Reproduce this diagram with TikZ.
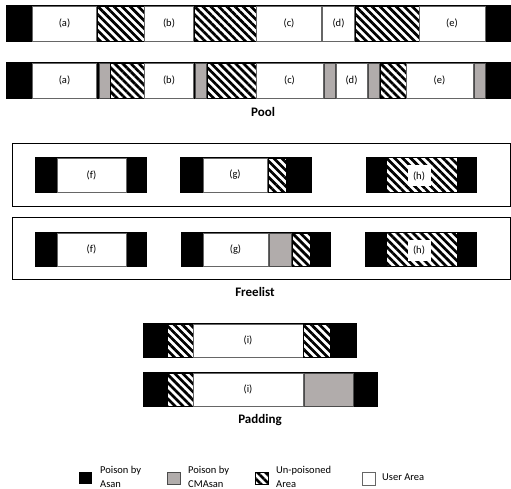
\documentclass[tikz,border=0pt]{standalone}
\usepackage{fontspec}
\setmainfont{Carlito}
\usetikzlibrary{patterns.meta}
\definecolor{cmgray}{HTML}{B1ACAB}
\tikzset{
  blackbar/.style={fill=black},
  userarea/.style={fill=white,draw=black!60,line width=0.5pt},
  cmbox/.style={fill=cmgray,draw=black!70,line width=0.5pt},
  hatch/.style={preaction={fill=white},pattern={Lines[angle=-45,distance=5.7pt,line width=2.7pt]},pattern color=black,draw=black,line width=0.5pt},
  frame/.style={draw=black,line width=1pt},
  lbl/.style={font=\fontsize{10.5}{12}\selectfont,inner sep=1pt},
  hpatch/.style={lbl,fill=white,inner sep=0pt,minimum height=21pt,minimum width=23pt},
  ttl/.style={font=\fontsize{13}{15}\selectfont\bfseries},
  leg/.style={font=\fontsize{10.5}{13.5}\selectfont,align=left,anchor=west,inner sep=0pt}
}
\begin{document}
\begin{tikzpicture}[x=1pt,y=-1pt]
\useasboundingbox (0,0) rectangle (511,489);
% ---------- Pool row 1
\fill[blackbar] (6,5) rectangle (511,42);
\draw[userarea] (32.5,6) rectangle (96.5,41);
\draw[hatch] (97,6) rectangle (144,41);
\draw[userarea] (144,6) rectangle (193.5,41);
\draw[hatch] (194,6) rectangle (256,41);
\draw[userarea] (256,6) rectangle (321.5,41);
\draw[userarea] (322.5,6) rectangle (354.5,41);
\draw[hatch] (355,6) rectangle (419,41);
\draw[userarea] (419,6) rectangle (485.5,41);
\node[lbl] (a1) at (64.5,23.5) {(a)};
\node[lbl] (b1) at (169,23.5) {(b)};
\node[lbl] (c1) at (289,23.5) {(c)};
\node[lbl] (d1) at (338.5,23.5) {(d)};
\node[lbl] (e1) at (452,23.5) {(e)};
% ---------- Pool row 2
\fill[blackbar] (6,62) rectangle (511,99);
\draw[userarea] (32.5,63) rectangle (96.5,98);
\draw[cmbox] (99.5,63) rectangle (110,98);
\draw[hatch] (110.5,63) rectangle (144,98);
\draw[userarea] (144,63) rectangle (193.5,98);
\draw[cmbox] (195,63) rectangle (206.5,98);
\draw[hatch] (207,63) rectangle (256,98);
\draw[userarea] (256,63) rectangle (323,98);
\draw[cmbox] (324,63) rectangle (335,98);
\draw[userarea] (336,63) rectangle (367,98);
\draw[cmbox] (368,63) rectangle (379.5,98);
\draw[hatch] (380,63) rectangle (406,98);
\draw[userarea] (406,63) rectangle (473,98);
\draw[cmbox] (474,63) rectangle (485.5,98);
\node[lbl] (a2) at (64.5,80.5) {(a)};
\node[lbl] (b2) at (169,80.5) {(b)};
\node[lbl] (c2) at (289.5,80.5) {(c)};
\node[lbl] (d2) at (351.5,80.5) {(d)};
\node[lbl] (e2) at (439.5,80.5) {(e)};
\node[ttl] (pool) at (263,112) {Pool};
% ---------- Freelist
\draw[frame] (12,144) rectangle (510,206);
\draw[frame] (12,217) rectangle (510,279);
% row 1
\fill[blackbar] (35,157) rectangle (147,193);
\draw[userarea] (57,158) rectangle (126,192);
\node[lbl] (f1) at (91.5,175) {(f)};
\fill[blackbar] (180,157) rectangle (312,193);
\draw[userarea] (203,158) rectangle (267.5,192);
\draw[hatch] (268,158) rectangle (286,192);
\node[lbl] (g1) at (235,175) {(g)};
\fill[blackbar] (366,157) rectangle (477,193);
\draw[hatch,draw=none] (387,158) rectangle (457,192);
\node[hpatch] (h1) at (419,176) {(h)};
% row 2
\fill[blackbar] (35,232) rectangle (147,267);
\draw[userarea] (57,233) rectangle (126,266);
\node[lbl] (f2) at (91.5,249.5) {(f)};
\fill[blackbar] (181,232) rectangle (331,267);
\draw[userarea] (203,233) rectangle (268,266);
\draw[cmbox] (269,233) rectangle (291,266);
\draw[hatch] (292,233) rectangle (310,266);
\node[lbl] (g2) at (235.5,249.5) {(g)};
\fill[blackbar] (365,232) rectangle (477,267);
\draw[hatch,draw=none] (387,233) rectangle (457,266);
\node[hpatch] (h2) at (419,250.5) {(h)};
\node[ttl] (freelist) at (255,292) {Freelist};
% ---------- Padding
\fill[blackbar] (143,323) rectangle (357,358);
\draw[hatch] (167,324) rectangle (193,357);
\draw[userarea] (193,324) rectangle (303,357);
\draw[hatch] (303,324) rectangle (330,357);
\node[lbl] (i1) at (248,340.5) {(i)};
\fill[blackbar] (143,372) rectangle (378,407);
\draw[hatch] (167,373) rectangle (193,406);
\draw[userarea] (193,373) rectangle (303,406);
\draw[cmbox] (304,373) rectangle (353,406);
\node[lbl] (i2) at (248,389.5) {(i)};
\node[ttl] (padding) at (260,420) {Padding};
% ---------- Legend
\fill[blackbar] (79,472) rectangle (92,484);
\node[leg] (l1) at (100,477) {Poison by\\Asan};
\draw[cmbox] (167,472) rectangle (180,484);
\node[leg] (l2) at (188,477) {Poison by\\CMAsan};
\draw[hatch] (255,472) rectangle (268,484);
\node[leg] (l3) at (276,477) {Un-poisoned\\Area};
\draw[userarea] (362,472) rectangle (375,485);
\node[leg] (l4) at (382,477) {User Area};
\end{tikzpicture}
\end{document}
